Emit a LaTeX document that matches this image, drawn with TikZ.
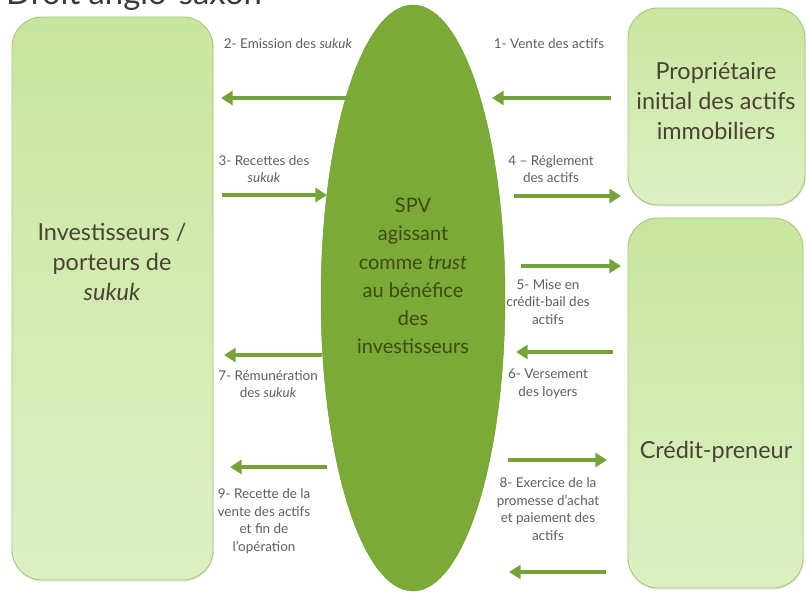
\documentclass[tikz,border=0pt]{standalone}
\usepackage{fontspec}
\setmainfont{Lato}
\usetikzlibrary{shapes.geometric,arrows.meta,shadows}

\definecolor{boxtop}{HTML}{C9E6A0}
\definecolor{boxbot}{HTML}{DDF0C4}
\definecolor{boxline}{HTML}{A6CA78}
\definecolor{spvgreen}{HTML}{7BAA37}
\definecolor{spvedge}{HTML}{6E9C2E}
\definecolor{spvtext}{HTML}{3D4A12}
\definecolor{flowgreen}{HTML}{76A23A}
\definecolor{lblgray}{HTML}{5E5E5E}
\definecolor{boxtext}{HTML}{4A4232}
\definecolor{titlegray}{HTML}{3A3A3A}

\begin{document}
\begin{tikzpicture}[x=0.03cm, y=-0.03cm]

    \tikzstyle{party}=[rectangle, rounded corners=0.9cm, draw=boxline, line width=0.8pt, top color=boxtop, bottom color=boxbot, drop shadow={opacity=0.2, shadow xshift=0.6pt, shadow yshift=-1.2pt}];
    \tikzstyle{partytext}=[align=center, text=boxtext, font=\fontsize{20}{25.5}\selectfont];
    \tikzstyle{flow}=[-{Triangle[length=10pt, width=12pt]}, line width=3.2pt, draw=flowgreen];
    \tikzstyle{lbl}=[align=center, text=lblgray, font=\fontsize{11.5}{15}\selectfont];

    \clip (0,0) rectangle (806,595);

    \node[anchor=base west, text=titlegray, font=\fontsize{28}{28}\selectfont] (title) at (2,5) {Droit anglo-saxon};

    % the parties
    \node[party, minimum width=6.03cm, minimum height=16.89cm] (inv) at (112.5,298.5) {};
    \node[party, minimum width=5.31cm, minimum height=5.91cm] (prop) at (716.5,106.5) {};
    \node[party, minimum width=5.25cm, minimum height=11.1cm] (cred) at (715.5,403) {};
    \node[ellipse, inner sep=0, minimum width=5.52cm, minimum height=17.58cm, fill=spvgreen, draw=spvedge] (spv) at (413,298) {};

    \node[partytext] (invtxt) at (112,262) {Investisseurs /\\porteurs de\\\textit{sukuk}};
    \node[partytext] (proptxt) at (716,101) {Propriétaire\\initial des actifs\\immobiliers};
    \node[partytext] (credtxt) at (716,452) {Crédit-preneur};
    \node[align=center, text=spvtext, font=\fontsize{17}{24}\selectfont] (spvtxt) at (413,276) {SPV\\agissant\\comme \textit{trust}\\au bénéfice\\des\\investisseurs};

    % arrow ends
    \coordinate (a1s) at (611,98);  \coordinate (a1e) at (492,98);
    \coordinate (a2s) at (350,98);  \coordinate (a2e) at (221,98);
    \coordinate (a3s) at (222,195); \coordinate (a3e) at (327,195);
    \coordinate (a4s) at (514,196); \coordinate (a4e) at (621,196);
    \coordinate (a5s) at (521,266); \coordinate (a5e) at (621,266);
    \coordinate (a6s) at (613,352); \coordinate (a6e) at (516,352);
    \coordinate (a7s) at (322,355); \coordinate (a7e) at (224,355);
    \coordinate (a8s) at (508,460); \coordinate (a8e) at (607,460);
    \coordinate (a10s) at (606,572); \coordinate (a10e) at (509,572);
    \coordinate (a9s) at (327,467); \coordinate (a9e) at (230,467);

    \draw[flow] (a1s) -- (a1e);
    \draw[flow] (a2s) -- (a2e);
    \draw[flow] (a3s) -- (a3e);
    \draw[flow] (a4s) -- (a4e);
    \draw[flow] (a5s) -- (a5e);
    \draw[flow] (a6s) -- (a6e);
    \draw[flow] (a7s) -- (a7e);
    \draw[flow] (a8s) -- (a8e);
    \draw[flow] (a10s) -- (a10e);
    \draw[flow] (a9s) -- (a9e);

    % labels
    \node[lbl] (l1) at (549,44) {1- Vente des actifs};
    \node[lbl] (l2) at (288,44) {2- Emission des \textit{sukuk}};
    \node[lbl] (l3) at (264,169) {3- Recettes des\\\textit{sukuk}};
    \node[lbl] (l4) at (551,169) {4 – Réglement\\des actifs};
    \node[lbl] (l5) at (548,302) {5- Mise en\\crédit-bail des\\actifs};
    \node[lbl] (l6) at (548,384) {6- Versement\\des loyers};
    \node[lbl] (l7) at (268,384) {7- Rémunération\\des \textit{sukuk}};
    \node[lbl] (l8) at (548,509) {8- Exercice de la\\promesse d'achat\\et paiement des\\actifs};
    \node[lbl] (l9) at (264,521) {9- Recette de la\\vente des actifs\\et fin de\\l'opération};
    \end{tikzpicture}
\end{document}
